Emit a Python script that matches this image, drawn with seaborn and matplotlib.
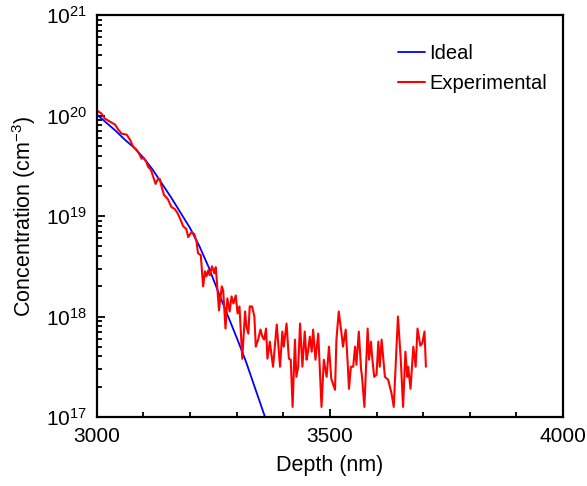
# Concentration vs depth profile: ideal curve against the measured (experimental) one.
# Log y axis, Arial-like look with inward ticks.

import numpy as np
import pandas as pd
import matplotlib
matplotlib.use("Agg")
import matplotlib.pyplot as plt
from matplotlib.ticker import MultipleLocator, LogLocator
import seaborn as sns

# Ideal profile - depth (nm) and log10 of concentration (cm^-3)
ideal_depth = [3000, 3020, 3040, 3060, 3080, 3100, 3120, 3140, 3160, 3180,
               3200, 3220, 3240, 3260, 3280, 3300, 3320, 3340, 3360, 3366]
ideal_log = [20.01, 19.93, 19.85, 19.76, 19.68, 19.58, 19.46, 19.32, 19.18, 19.03,
             18.88, 18.70, 18.49, 18.25, 18.02, 17.79, 17.55, 17.28, 17.01, 16.93]

# Experimental profile
exp_depth = [3000, 3010, 3017, 3028, 3039, 3046, 3053, 3064, 3071, 3078,
             3085, 3092, 3096, 3100, 3106, 3110, 3116, 3121, 3126, 3130,
             3135, 3139, 3144, 3152, 3160, 3167, 3173, 3180, 3185, 3192,
             3196, 3203, 3209, 3214, 3217, 3223, 3228, 3232, 3235, 3239,
             3242, 3247, 3252, 3255, 3257, 3262, 3268, 3271, 3276, 3280,
             3285, 3289, 3293, 3298, 3302, 3306, 3312, 3318, 3321, 3325,
             3328, 3333, 3338, 3341, 3346, 3351, 3355, 3359, 3363, 3366,
             3371, 3378, 3386, 3393, 3398, 3401, 3407, 3412, 3416, 3420,
             3425, 3428, 3432, 3436, 3441, 3446, 3450, 3453, 3457, 3461,
             3464, 3469, 3475, 3482, 3487, 3493, 3498, 3503, 3511, 3514,
             3519, 3525, 3528, 3534, 3538, 3541, 3545, 3550, 3554, 3557,
             3562, 3567, 3569, 3574, 3581, 3584, 3588, 3591, 3595, 3600,
             3604, 3607, 3611, 3618, 3625, 3632, 3637, 3643, 3646, 3652,
             3657, 3662, 3666, 3668, 3673, 3679, 3684, 3688, 3694, 3698,
             3703, 3706]
exp_log = [20.05, 20.02, 19.97, 19.94, 19.91, 19.86, 19.82, 19.81, 19.76, 19.69,
           19.66, 19.61, 19.57, 19.58, 19.54, 19.49, 19.46, 19.39, 19.32, 19.36,
           19.37, 19.29, 19.21, 19.17, 19.09, 19.07, 19.03, 18.96, 18.90, 18.87,
           18.79, 18.84, 18.82, 18.74, 18.63, 18.61, 18.30, 18.45, 18.40, 18.46,
           18.41, 18.50, 18.43, 18.49, 18.38, 18.06, 18.30, 18.26, 17.88, 18.18,
           18.05, 18.20, 18.13, 18.21, 18.03, 18.10, 17.58, 18.05, 17.90, 17.83,
           18.10, 18.10, 18.00, 17.70, 17.77, 17.87, 17.80, 17.77, 17.88, 17.58,
           17.75, 17.50, 17.92, 17.50, 17.85, 17.70, 17.93, 17.58, 17.57, 17.10,
           17.77, 17.40, 17.50, 17.93, 17.50, 17.85, 17.57, 17.65, 17.80, 17.65,
           17.87, 17.57, 17.83, 17.10, 17.57, 17.40, 17.70, 17.38, 17.27, 17.77,
           18.05, 17.83, 17.70, 17.87, 17.55, 17.28, 17.50, 17.50, 17.70, 17.52,
           17.85, 17.47, 17.40, 17.10, 17.88, 17.57, 17.75, 17.58, 17.40, 17.42,
           17.75, 17.50, 17.77, 17.40, 17.37, 17.24, 17.10, 17.70, 18.00, 17.58,
           17.10, 17.65, 17.40, 17.50, 17.28, 17.70, 17.50, 17.88, 17.71, 17.73,
           17.85, 17.50]

ideal = pd.DataFrame({"depth": ideal_depth, "conc": 10.0 ** np.array(ideal_log)})
exper = pd.DataFrame({"depth": exp_depth, "conc": 10.0 ** np.array(exp_log)})

sns.set_theme(style="ticks")
plt.rcParams["font.family"] = ["Liberation Sans", "DejaVu Sans"]
plt.rcParams["mathtext.fontset"] = "custom"
plt.rcParams["mathtext.rm"] = "Liberation Sans"
plt.rcParams["mathtext.it"] = "Liberation Sans:italic"
plt.rcParams["mathtext.default"] = "regular"
plt.rcParams["text.color"] = "black"
plt.rcParams["axes.labelcolor"] = "black"

fig = plt.figure(figsize=(5.87, 4.86), dpi=100)
ax = fig.add_axes([0.165, 0.142, 0.794, 0.827])

sns.lineplot(data=ideal, x="depth", y="conc", ax=ax, color="blue",
             linewidth=1.3, label="Ideal", estimator=None, sort=False)
sns.lineplot(data=exper, x="depth", y="conc", ax=ax, color="red",
             linewidth=1.5, label="Experimental", estimator=None, sort=False)

ax.set_yscale("log")
ax.set_xlim(3000, 4000)
ax.set_ylim(1e17, 1e21)
ax.xaxis.set_major_locator(MultipleLocator(500))
ax.xaxis.set_minor_locator(MultipleLocator(100))
ax.yaxis.set_major_locator(LogLocator(base=10))
ax.yaxis.set_minor_locator(LogLocator(base=10, subs=np.arange(2, 10)))

ax.tick_params(which="both", direction="in", top=False, right=False,
               colors="black", labelsize=15, width=1.3)
ax.tick_params(which="major", length=6, pad=7)
ax.tick_params(which="minor", length=3.5)
for sp in ax.spines.values():
    sp.set_linewidth(1.6)
    sp.set_color("black")

ax.set_xlabel("Depth (nm)", fontsize=15.5, labelpad=7)
ax.set_ylabel("Concentration (cm$^{-3}$)", fontsize=15.5, labelpad=6)

leg = ax.legend(loc="upper left", bbox_to_anchor=(0.629, 0.948), frameon=False,
                fontsize=14.5, handlelength=1.35, handletextpad=0.2,
                labelspacing=0.55, borderaxespad=0)
for t in leg.get_texts():
    t.set_color("black")

fig.savefig("out.png", dpi=100)
